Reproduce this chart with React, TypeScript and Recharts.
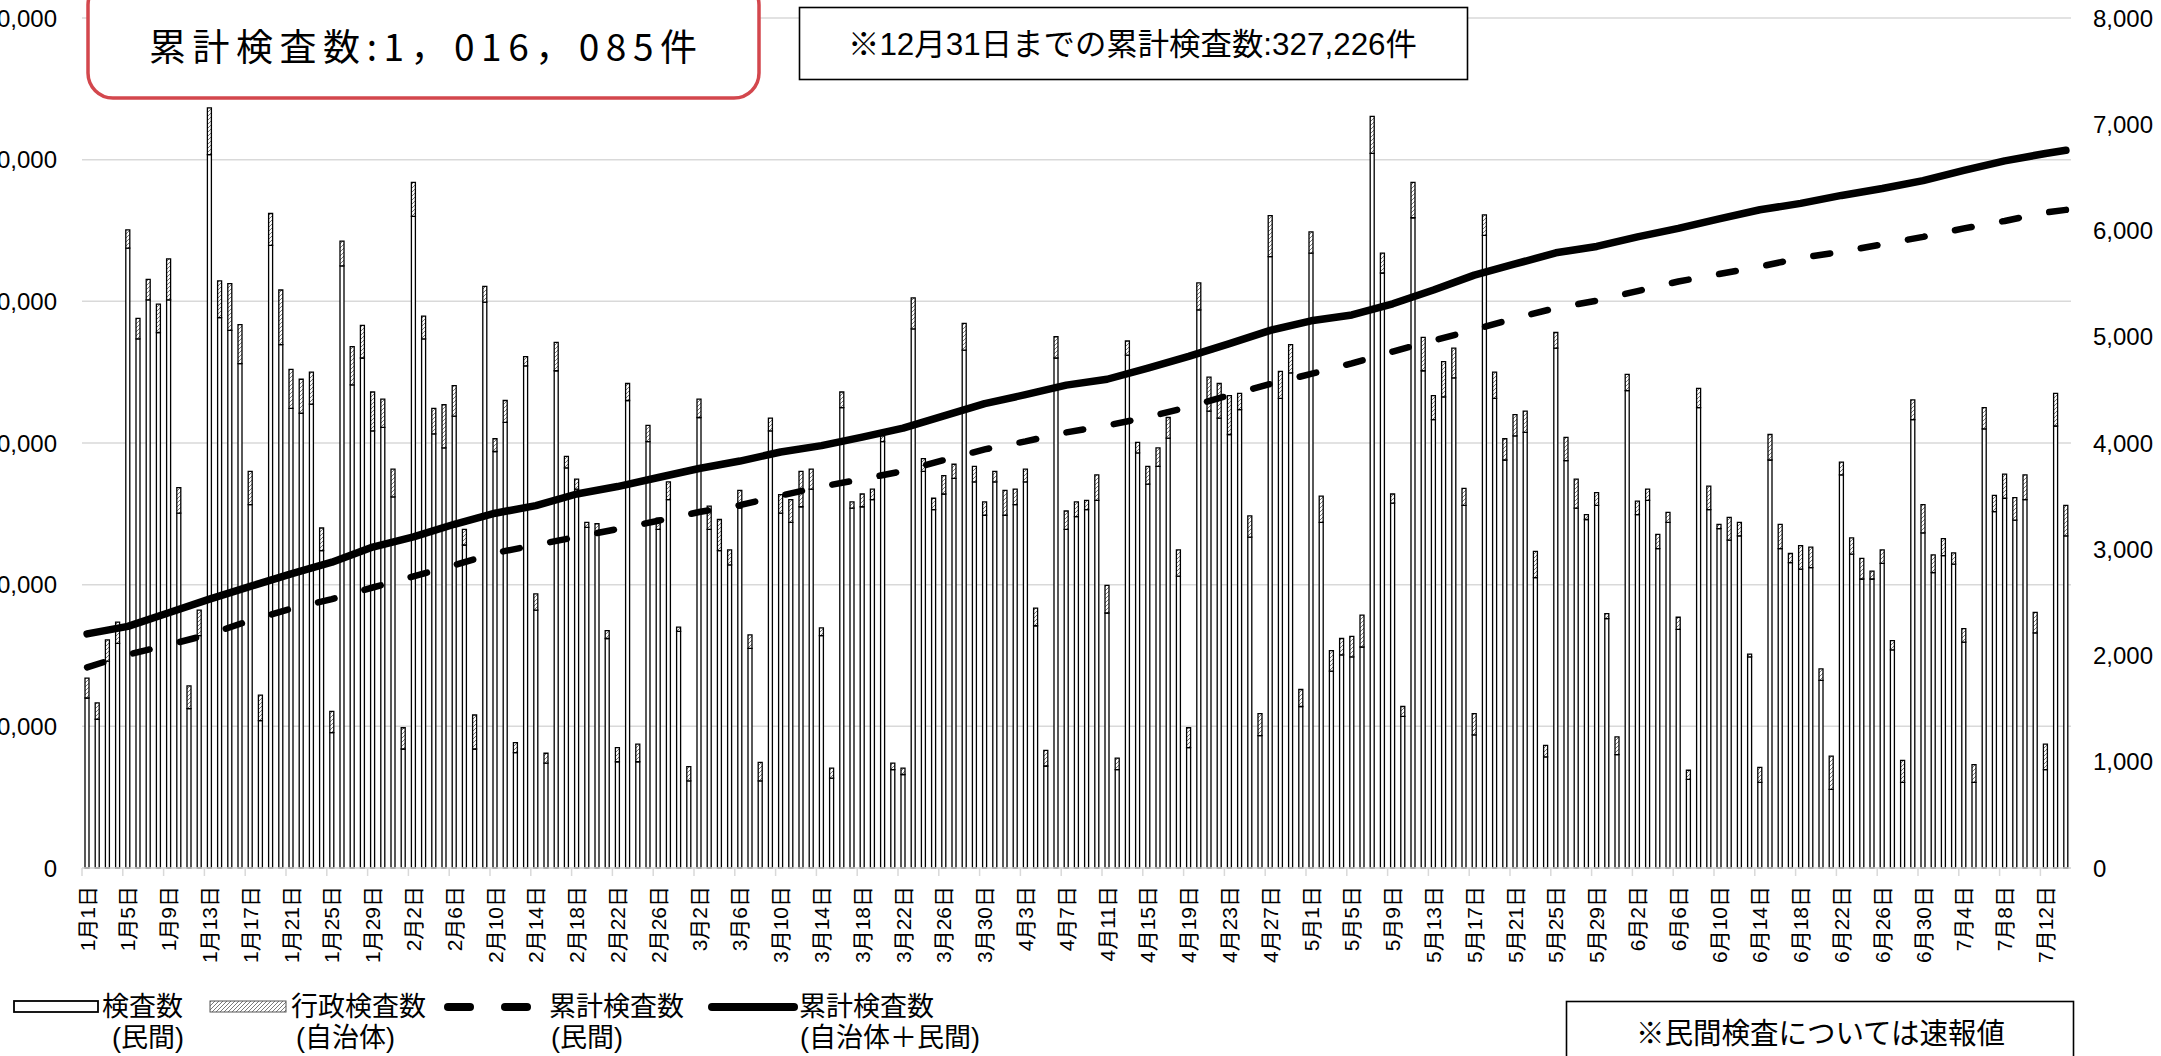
import React from 'react';
import { ComposedChart, Bar, Line, XAxis, YAxis, CartesianGrid } from 'recharts';

// 1月1日〜7月14日
const MONTHS = [1, 2, 3, 4, 5, 6, 7];
const MONTH_DAYS = [31, 28, 31, 30, 31, 30, 14];
const DAYS: string[] = MONTHS.flatMap((m, k) =>
  Array.from({ length: MONTH_DAYS[k] }, (_, d) => `${m}月${d + 1}日`)
);

// 検査数（民間）
const MINKAN = [
  12000, 10500, 14600, 15850, 43750, 37350, 40100, 37800, 40100, 25050, 11250, 16400, 50350, 38850, 37950, 35600, 25650, 10400, 43950, 36950,
  32450, 32100, 32750, 22400, 9550, 42500, 34100, 36000, 30850, 31100, 26200, 8400, 46000, 37350, 30650, 29650, 31900, 22800, 8400, 39950,
  29400, 31450, 8150, 35450, 18200, 7400, 35100, 28250, 26750, 24050, 23550, 16200, 7500, 33000, 7500, 30100, 23900, 26000, 16700, 6150,
  31800, 23900, 22400, 21400, 25400, 15500, 6150, 30850, 25050, 24400, 25500, 26750, 16400, 6350, 32500, 25400, 25500, 26000, 30100, 6950,
  6600, 38050, 28000, 25300, 26400, 27500, 36550, 27250, 24900, 27250, 24900, 25650, 27250, 17100, 7200, 36000, 23900, 24800, 25300, 25950,
  18000, 6950, 36200, 29300, 27100, 28350, 30350, 20600, 8500, 39400, 32250, 31750, 30600, 32350, 23350, 9350, 43150, 33150, 34950, 11400,
  43400, 24400, 13900, 15050, 14900, 15600, 50450, 42000, 25750, 10700, 45900, 35100, 31650, 33250, 34600, 25600, 9400, 44650, 33150, 28800,
  30500, 30750, 20500, 7850, 36700, 28750, 25400, 24600, 25600, 17600, 8000, 33700, 24950, 25950, 22550, 24400, 16850, 6250, 32500, 25300,
  23950, 23150, 23450, 14900, 6050, 28800, 22550, 21550, 21100, 21200, 13250, 5550, 27750, 22150, 20400, 20400, 21500, 15400, 6050, 31650,
  23650, 20850, 22050, 21450, 15950, 6050, 31000, 25150, 26100, 24550, 26000, 16600, 6950, 31200, 23450,
];

// 行政検査数（自治体）
const GYOSEI = [
  1400, 1150, 1500, 1500, 1300, 1450, 1450, 2000, 2900, 1800, 1600, 1800, 3300, 2600, 3300, 2750, 2350, 1800, 2250, 3850,
  2750, 2400, 2250, 1600, 1500, 1750, 2700, 2300, 2750, 2000, 1950, 1500, 2400, 1600, 1800, 3050, 2150, 1100, 2400, 1100,
  900, 1550, 700, 650, 1150, 700, 2000, 800, 700, 350, 750, 550, 1000, 1200, 1250, 1150, 800, 1250, 300, 1000,
  1300, 1650, 2200, 1050, 1250, 950, 1300, 900, 1300, 1600, 2500, 1400, 550, 700, 1100, 450, 900, 750, 400, 450,
  450, 2200, 900, 800, 1300, 1000, 1900, 1100, 950, 750, 1750, 1100, 900, 1250, 1100, 1500, 1300, 1050, 650, 1800,
  1950, 800, 1000, 750, 1250, 1300, 1450, 1850, 1400, 1900, 2400, 2450, 2750, 1150, 1500, 1550, 2900, 1900, 2000, 1200,
  1500, 1850, 1450, 1150, 1450, 2250, 2600, 1400, 650, 700, 2500, 2350, 1700, 2500, 2100, 1200, 1500, 1450, 1850, 1500,
  1500, 1500, 1850, 800, 1100, 1650, 2050, 350, 900, 350, 1250, 1150, 950, 800, 1000, 700, 850, 650, 1350, 1650,
  300, 1600, 950, 200, 1050, 1800, 1700, 650, 1650, 1450, 800, 2350, 900, 1150, 1450, 550, 950, 650, 1550, 1400,
  2000, 1250, 1200, 800, 950, 1250, 1500, 1150, 1700, 1600, 1750, 1450, 1800, 2300, 2150,
];

// 累計検査数 (read every 4 days, last point = 7月14日)
const CUM_ALL = [
  2203, 2274, 2402, 2531, 2650, 2769, 2878, 3021, 3116, 3235, 3339, 3411, 3520, 3590, 3675, 3760, 3830, 3915, 3975, 4055,
  4140, 4255, 4370, 4455, 4545, 4600, 4705, 4815, 4935, 5060, 5150, 5205, 5310, 5440, 5580, 5685, 5790, 5850, 5940, 6020,
  6110, 6195, 6255, 6330, 6395, 6470, 6565, 6655, 6725, 6755,
];
const CUM_MINKAN = [
  1889, 2008, 2100, 2200, 2330, 2440, 2531, 2640, 2745, 2850, 2965, 3040, 3116, 3190, 3268, 3350, 3415, 3505, 3590, 3660,
  3735, 3839, 3940, 4015, 4100, 4165, 4243, 4340, 4450, 4555, 4650, 4750, 4860, 4965, 5065, 5176, 5270, 5340, 5430, 5520,
  5590, 5660, 5742, 5800, 5870, 5940, 6020, 6090, 6170, 6194,
];

const LEFT_TICKS = [0, 10000, 20000, 30000, 40000, 50000, 60000];
const RIGHT_TICKS = [0, 1000, 2000, 3000, 4000, 5000, 6000, 7000, 8000];

const W = 2161;
const H = 1056;
const PLOT_LEFT = 82;
const PLOT_RIGHT = 2071;
const PLOT_TOP = 18;
const PLOT_BOTTOM = 868;
const BAND = (PLOT_RIGHT - PLOT_LEFT) / DAYS.length;

const NUM_FONT = '"Liberation Sans", Arial, sans-serif';
const JP_FONT = '"Liberation Sans", "Noto Sans CJK JP", sans-serif';

const data = DAYS.map((day, i) => {
  const s = i % 4 === 0 ? i / 4 : i === DAYS.length - 1 ? CUM_ALL.length - 1 : -1;
  return {
    day,
    minkan: MINKAN[i],
    gyosei: GYOSEI[i],
    cumAll: s >= 0 ? CUM_ALL[s] : null,
    cumMinkan: s >= 0 ? CUM_MINKAN[s] : null,
  };
});

const XTick = (props: any) => {
  const { x, payload } = props;
  return (
    <g>
      <line x1={x - BAND / 2} x2={x - BAND / 2} y1={PLOT_BOTTOM} y2={PLOT_BOTTOM + 8} stroke="#d9d9d9" strokeWidth={1.5} />
      <text
        transform={`translate(${x},${PLOT_BOTTOM + 18}) rotate(-90)`}
        textAnchor="end"
        dominantBaseline="central"
        fontSize={21}
        fontFamily={JP_FONT}
        fill="#000"
      >
        {payload.value}
      </text>
    </g>
  );
};

const App: React.FC = () => {
  return (
    <div style={{ position: 'absolute', left: 0, top: 0, width: W, height: H, overflow: 'hidden', background: '#fff' }}>
      <svg width={0} height={0} style={{ position: 'absolute' }}>
        <defs>
          <pattern id="hatch" patternUnits="userSpaceOnUse" width={4} height={4}>
            <rect width={4} height={4} fill="#fff" />
            <path d="M-1,1 l2,-2 M0,4 l4,-4 M3,5 l2,-2" stroke="#7a7a7a" strokeWidth={1} />
          </pattern>
        </defs>
      </svg>

      <ComposedChart
        width={W}
        height={H}
        data={data}
        margin={{ top: PLOT_TOP, right: 0, bottom: 0, left: 0 }}
        barCategoryGap={0}
      >
        <CartesianGrid yAxisId="left" vertical={false} stroke="#d9d9d9" strokeWidth={1.5} />
        <XAxis
          dataKey="day"
          height={H - PLOT_BOTTOM}
          interval={3}
          tickLine={false}
          tickSize={0}
          tickMargin={0}
          axisLine={{ stroke: '#d9d9d9', strokeWidth: 1.5 }}
          tick={(p: any) => <XTick {...p} />}
        />
        <YAxis
          yAxisId="left"
          width={PLOT_LEFT}
          domain={[0, 60000]}
          ticks={LEFT_TICKS}
          axisLine={false}
          tickLine={false}
          tickSize={0}
          tickMargin={25}
          tickFormatter={(v: number) => v.toLocaleString('en-US')}
          tick={{ fontSize: 24, fill: '#000', fontFamily: NUM_FONT }}
        />
        <YAxis
          yAxisId="right"
          orientation="right"
          width={W - PLOT_RIGHT}
          domain={[0, 8000]}
          ticks={RIGHT_TICKS}
          axisLine={false}
          tickLine={false}
          tickSize={0}
          tickMargin={22}
          tickFormatter={(v: number) => v.toLocaleString('en-US')}
          tick={{ fontSize: 24, fill: '#000', fontFamily: NUM_FONT, textAnchor: 'start' }}
        />
        <Bar yAxisId="left" dataKey="minkan" stackId="a" barSize={4} fill="#fff" stroke="#000" strokeWidth={1.3} isAnimationActive={false} />
        <Bar yAxisId="left" dataKey="gyosei" stackId="a" barSize={4} fill="url(#hatch)" stroke="#000" strokeWidth={1.3} isAnimationActive={false} />
        <Line
          yAxisId="right"
          type="linear"
          dataKey="cumMinkan"
          stroke="#000"
          strokeWidth={6.5}
          strokeDasharray="17 31"
          strokeLinecap="round"
          dot={false}
          activeDot={false}
          connectNulls
          isAnimationActive={false}
        />
        <Line
          yAxisId="right"
          type="linear"
          dataKey="cumAll"
          stroke="#000"
          strokeWidth={7.5}
          strokeLinecap="round"
          strokeLinejoin="round"
          dot={false}
          activeDot={false}
          connectNulls
          isAnimationActive={false}
        />
      </ComposedChart>

      <svg width={W} height={H} style={{ position: 'absolute', left: 0, top: 0, pointerEvents: 'none' }}>
        {/* total box */}
        <rect x={88} y={-20} width={671} height={118} rx={25} fill="#fff" stroke="#D3474D" strokeWidth={3.5} />
        <text x={149} y={45} fontSize={37} textLength={548} lengthAdjust="spacing" dominantBaseline="central" fontFamily='"Noto Sans CJK JP", sans-serif' fill="#000">
          累計検査数:1，016，085件
        </text>

        <rect x={799.5} y={7.5} width={668} height={72} fill="#fff" stroke="#000" strokeWidth={1.6} />
        <text x={848} y={44} fontSize={31} textLength={569} lengthAdjust="spacingAndGlyphs" dominantBaseline="central" fontFamily={JP_FONT} fill="#000">
          ※12月31日までの累計検査数:327,226件
        </text>

        {/* legend */}
        <rect x={14} y={1001} width={84} height={11} fill="#fff" stroke="#000" strokeWidth={1.8} />
        <text x={102} y={1007} fontSize={27} dominantBaseline="central" fontFamily={JP_FONT}>検査数</text>
        <text x={112} y={1038} fontSize={27} dominantBaseline="central" fontFamily={JP_FONT}>(民間)</text>

        <rect x={210} y={1001} width={76} height={11} fill="url(#hatch)" stroke="#555" strokeWidth={1} />
        <text x={291} y={1007} fontSize={27} dominantBaseline="central" fontFamily={JP_FONT}>行政検査数</text>
        <text x={296} y={1038} fontSize={27} dominantBaseline="central" fontFamily={JP_FONT}>(自治体)</text>

        <line x1={448} x2={470} y1={1007} y2={1007} stroke="#000" strokeWidth={8} strokeLinecap="round" />
        <line x1={505} x2={527} y1={1007} y2={1007} stroke="#000" strokeWidth={8} strokeLinecap="round" />
        <text x={549} y={1007} fontSize={27} dominantBaseline="central" fontFamily={JP_FONT}>累計検査数</text>
        <text x={551} y={1038} fontSize={27} dominantBaseline="central" fontFamily={JP_FONT}>(民間)</text>

        <line x1={712} x2={794} y1={1007} y2={1007} stroke="#000" strokeWidth={8} strokeLinecap="round" />
        <text x={799} y={1007} fontSize={27} dominantBaseline="central" fontFamily={JP_FONT}>累計検査数</text>
        <text x={800} y={1038} fontSize={27} dominantBaseline="central" fontFamily={JP_FONT}>(自治体＋民間)</text>

        {/* note */}
        <rect x={1566.5} y={1001.5} width={507} height={80} fill="#fff" stroke="#000" strokeWidth={1.6} />
        <text x={1636} y={1034} fontSize={29} textLength={369} lengthAdjust="spacingAndGlyphs" dominantBaseline="central" fontFamily={JP_FONT}>
          ※民間検査については速報値
        </text>
      </svg>
    </div>
  );
};

export default App;
